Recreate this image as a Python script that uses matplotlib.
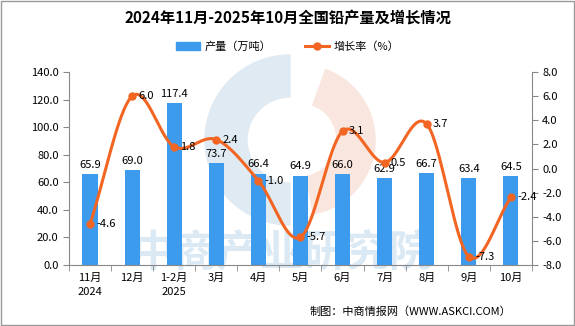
import numpy as np
import matplotlib.pyplot as plt
from matplotlib.patches import Wedge, Patch
from matplotlib.lines import Line2D

plt.rcParams['font.family'] = ['Noto Sans CJK SC', 'DejaVu Sans']

# monthly lead output (10k tonnes) and year-on-year growth (%)
months = ["11月\n2024", "12月", "1-2月\n2025", "3月", "4月", "5月",
          "6月", "7月", "8月", "9月", "10月"]
output = [65.9, 69.0, 117.4, 73.7, 66.4, 64.9, 66.0, 62.9, 66.7, 63.4, 64.5]
growth = [-4.6, 6.0, 1.8, 2.4, -1.0, -5.7, 3.1, 0.5, 3.7, -7.3, -2.4]

BLUE = "#3d9bed"
ORANGE = "#f26522"
GRAY = "#888888"


def catmull_rom(x, y, steps=20):
    # smooth curve through the points for drawing the growth line
    x = np.asarray(x, float)
    y = np.asarray(y, float)
    px = np.concatenate([[2 * x[0] - x[1]], x, [2 * x[-1] - x[-2]]])
    py = np.concatenate([[2 * y[0] - y[1]], y, [2 * y[-1] - y[-2]]])
    xs, ys = [], []
    t = np.linspace(0, 1, steps, endpoint=False)
    for i in range(1, len(px) - 2):
        for arr, out in ((px, xs), (py, ys)):
            p0, p1, p2, p3 = arr[i - 1], arr[i], arr[i + 1], arr[i + 2]
            out.extend(0.5 * (2 * p1 + (-p0 + p2) * t
                              + (2 * p0 - 5 * p1 + 4 * p2 - p3) * t ** 2
                              + (-p0 + 3 * p1 - 3 * p2 + p3) * t ** 3))
    xs.append(x[-1])
    ys.append(y[-1])
    return np.array(xs), np.array(ys)


fig = plt.figure(figsize=(5.75, 3.26), dpi=100)

# faint logo + watermark behind the chart
bg = fig.add_axes([0, 0, 1, 1], zorder=0)
bg.set_xlim(0, 575)
bg.set_ylim(326, 0)
bg.axis("off")
bg.add_patch(Wedge((290, 140), 85, 90, 270, width=42, color="#dfeaf2"))
bg.add_patch(Wedge((300, 140), 75, -70, 80, width=38, color="#f8e6df"))
bg.text(282, 252, "中商产业研究院", fontsize=31, fontweight="bold",
        color="#dbe9f4", ha="center", va="center")

ax = fig.add_axes([0.12, 0.187, 0.805, 0.592], zorder=1)
ax.patch.set_alpha(0)
x = np.arange(len(months))

ax.bar(x, output, width=0.36, color=BLUE, zorder=2)
for xi, v in zip(x, output):
    ax.text(xi, v + 3, f"{v:.1f}", ha="center", va="bottom", fontsize=8)

ax.set_ylim(0, 140)
ax.set_yticks(np.arange(0, 141, 20))
ax.set_yticklabels([f"{v:.1f}" for v in np.arange(0, 141, 20)], fontsize=8)
ax.set_xlim(-0.5, len(months) - 0.5)
ax.set_xticks(x)
ax.set_xticklabels(months, fontsize=8, linespacing=1.4)
ax.set_xticks(np.arange(-0.5, len(months), 1), minor=True)
ax.tick_params(axis="x", which="major", length=0, pad=6)
ax.tick_params(axis="x", which="minor", length=4, color=GRAY)
ax.tick_params(axis="y", length=4, color=GRAY)
for side in ("top", "right"):
    ax.spines[side].set_visible(False)
for side in ("left", "bottom"):
    ax.spines[side].set_color(GRAY)

ax2 = ax.twinx()
sx, sy = catmull_rom(x, growth)
ax2.plot(sx, sy, color=ORANGE, lw=2.2, zorder=3)
ax2.plot(x, growth, "o", color=ORANGE, ms=5, zorder=4)
for xi, v in zip(x, growth):
    ax2.text(xi + 0.15, v, f"{v:.1f}", ha="left", va="center", fontsize=8)
ax2.set_ylim(-8, 8)
ax2.set_yticks(np.arange(-8, 9, 2))
ax2.set_yticklabels([f"{v:.1f}" for v in np.arange(-8, 9, 2)], fontsize=8)
ax2.tick_params(axis="y", length=4, color=GRAY)
for side in ("top", "left", "bottom"):
    ax2.spines[side].set_visible(False)
ax2.spines["right"].set_color(GRAY)

fig.text(0.5, 0.945, "2024年11月-2025年10月全国铅产量及增长情况",
         ha="center", va="center", fontsize=11, fontweight="bold")

handles = [Patch(color=BLUE),
           Line2D([], [], color=ORANGE, lw=2.2, marker="o", ms=5)]
fig.legend(handles, ["产量（万吨）", "增长率（%）"], loc="center",
           bbox_to_anchor=(0.5, 0.856), ncol=2, frameon=False, fontsize=8,
           handlelength=2.2, handletextpad=0.4, columnspacing=3.0)

fig.text(0.89, 0.045, "制图：中商情报网（WWW.ASKCI.COM）",
         ha="right", va="center", fontsize=8)

# thin border around the whole figure
fig.add_artist(plt.Rectangle((0.002, 0.003), 0.996, 0.994, fill=False,
                             edgecolor="#999999", lw=1, transform=fig.transFigure))

fig.savefig("out.png", dpi=100)
